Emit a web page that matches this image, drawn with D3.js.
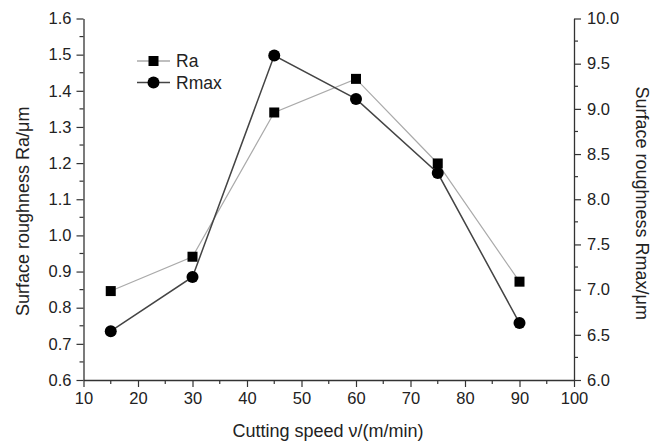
<!DOCTYPE html>
<html>
<head>
<meta charset="utf-8">
<script src="https://cdn.jsdelivr.net/npm/d3@7"></script>
<style>
    body { margin: 0; background: #fff; }
    text { font-family: "Liberation Sans", Arial, sans-serif; fill: #222; }
</style>
</head>
<body>
<svg id="chart" width="664" height="444"></svg>
<script>
// cutting speed (m/min)
const speeds = [15, 30, 45, 60, 75, 90];
const raValues = [0.846, 0.941, 1.340, 1.433, 1.199, 0.872];
const rmaxValues = [6.54, 7.14, 9.59, 9.11, 8.29, 6.63];

const xTicks = [10, 20, 30, 40, 50, 60, 70, 80, 90, 100];
const raTicks = [0.6, 0.7, 0.8, 0.9, 1.0, 1.1, 1.2, 1.3, 1.4, 1.5, 1.6];
const rmaxTicks = [6.0, 6.5, 7.0, 7.5, 8.0, 8.5, 9.0, 9.5, 10.0];

const svg = d3.select("#chart");
const plotLeft = 83.5, plotRight = 574, plotTop = 18.5, plotBottom = 380;
const tickFont = 16.5, titleFont = 18;

const x = d3.scaleLinear().domain([10, 100]).range([plotLeft, plotRight]);
const yRa = d3.scaleLinear().domain([0.6, 1.6]).range([plotBottom, plotTop]);
const yRmax = d3.scaleLinear().domain([6, 10]).range([plotBottom, plotTop]);

function styleAxis(g) {
    g.select(".domain").attr("stroke", "#333").attr("stroke-width", 1.3);
    g.selectAll(".tick line").attr("stroke", "#333").attr("stroke-width", 1.2);
    g.selectAll(".tick text").attr("font-size", tickFont).attr("fill", "#222");
}

function minorTicks(g, scale, values, orient) {
    values.forEach(v => {
        const p = scale(v);
        let ln = g.append("line").attr("stroke", "#333").attr("stroke-width", 1.2);
        if (orient === "left") ln.attr("x1", 0).attr("x2", -4).attr("y1", p).attr("y2", p);
        if (orient === "right") ln.attr("x1", 0).attr("x2", 4).attr("y1", p).attr("y2", p);
        if (orient === "bottom") ln.attr("y1", 0).attr("y2", 4).attr("x1", p).attr("x2", p);
    });
}

// bottom axis
const gx = svg.append("g").attr("transform", `translate(0,${plotBottom})`)
    .call(d3.axisBottom(x).tickValues(xTicks).tickSize(7).tickSizeOuter(0).tickPadding(5));
styleAxis(gx);
minorTicks(gx, x, xTicks.slice(0, -1).map(v => v + 5), "bottom");

// left axis
const gl = svg.append("g").attr("transform", `translate(${plotLeft},0)`)
    .call(d3.axisLeft(yRa).tickValues(raTicks).tickFormat(d3.format(".1f")).tickSize(7).tickSizeOuter(0).tickPadding(5));
styleAxis(gl);
minorTicks(gl, yRa, raTicks.slice(0, -1).map(v => v + 0.05), "left");

// right axis
const gr = svg.append("g").attr("transform", `translate(${plotRight},0)`)
    .call(d3.axisRight(yRmax).tickValues(rmaxTicks).tickFormat(d3.format(".1f")).tickSize(7).tickSizeOuter(0).tickPadding(6));
styleAxis(gr);
minorTicks(gr, yRmax, rmaxTicks.slice(0, -1).map(v => v + 0.25), "right");

// axis titles
svg.append("text")
    .attr("transform", `translate(29,${(plotTop + plotBottom) / 2 + 12}) rotate(-90)`)
    .attr("text-anchor", "middle").attr("font-size", titleFont)
    .text("Surface roughness Ra/μm");
svg.append("text")
    .attr("transform", `translate(636,${(plotTop + plotBottom) / 2 + 4}) rotate(90)`)
    .attr("text-anchor", "middle").attr("font-size", titleFont)
    .text("Surface roughness Rmax/μm");
svg.append("text")
    .attr("x", 328).attr("y", 437)
    .attr("text-anchor", "middle").attr("font-size", titleFont)
    .text("Cutting speed ν/(m/min)");

// series
const raLine = d3.line().x((d, i) => x(speeds[i])).y(d => yRa(d));
const rmaxLine = d3.line().x((d, i) => x(speeds[i])).y(d => yRmax(d));

svg.append("path").attr("d", raLine(raValues))
    .attr("fill", "none").attr("stroke", "#aaa").attr("stroke-width", 1.2);
svg.append("path").attr("d", rmaxLine(rmaxValues))
    .attr("fill", "none").attr("stroke", "#444").attr("stroke-width", 1.5);

const sq = 10;
svg.selectAll("rect.ra").data(raValues).join("rect")
    .attr("class", "ra")
    .attr("x", (d, i) => x(speeds[i]) - sq / 2).attr("y", d => yRa(d) - sq / 2)
    .attr("width", sq).attr("height", sq).attr("fill", "#000");

svg.selectAll("circle.rmax").data(rmaxValues).join("circle")
    .attr("class", "rmax")
    .attr("cx", (d, i) => x(speeds[i])).attr("cy", d => yRmax(d))
    .attr("r", 6).attr("fill", "#000");

// legend
const legend = svg.append("g");
const legendItems = [
    { name: "Ra", y: 61, color: "#aaa", shape: "square" },
    { name: "Rmax", y: 82.5, color: "#444", shape: "circle" }
];
legendItems.forEach(item => {
    legend.append("line").attr("x1", 137).attr("x2", 170).attr("y1", item.y).attr("y2", item.y)
        .attr("stroke", item.color).attr("stroke-width", 1.3);
    if (item.shape === "square") {
        legend.append("rect").attr("x", 153.5 - sq / 2).attr("y", item.y - sq / 2)
            .attr("width", sq).attr("height", sq).attr("fill", "#000");
    } else {
        legend.append("circle").attr("cx", 153.5).attr("cy", item.y).attr("r", 6).attr("fill", "#000");
    }
    legend.append("text").attr("x", 176).attr("y", item.y + 6).attr("font-size", 17.5).text(item.name);
});
</script>
</body>
</html>
